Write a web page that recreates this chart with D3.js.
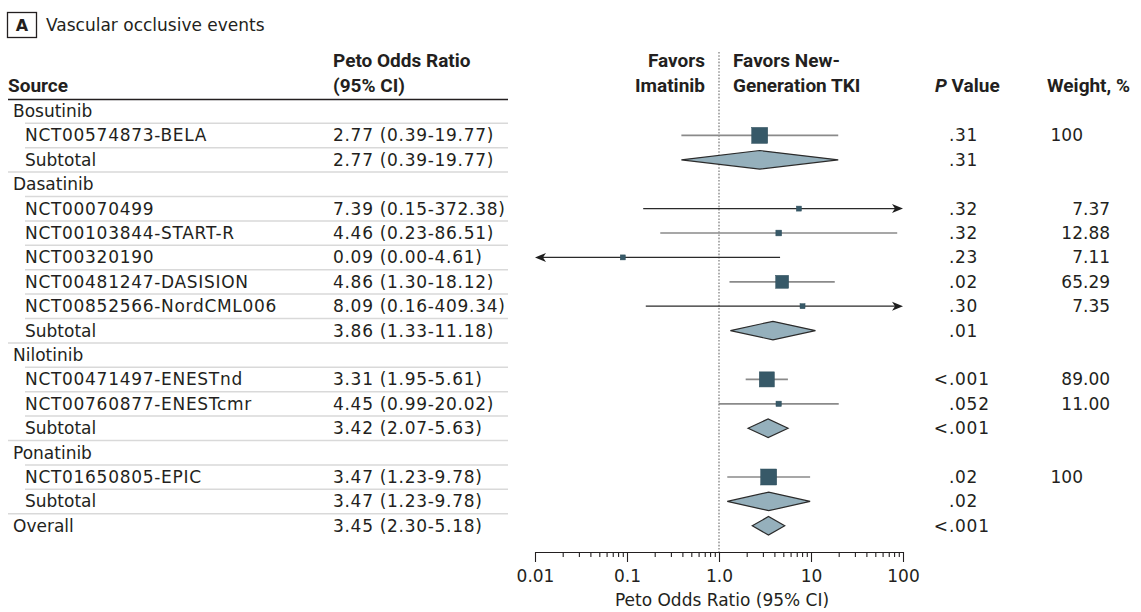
<!DOCTYPE html>
<html><head><meta charset="utf-8">
<script src="https://cdn.jsdelivr.net/npm/d3@7"></script>
<style>
body{margin:0;background:#fff}
svg{display:block}
text{font-family:"DejaVu Sans",sans-serif;fill:#231f20}
.hdr{font-family:Roboto,"DejaVu Sans",sans-serif;font-weight:700;font-size:19px}
.num{letter-spacing:0.7px}
</style>
</head><body>
<svg id="chart" width="1141" height="612"></svg>
<script>
// ---------- data ----------
const rowLabels = ["Bosutinib","NCT00574873-BELA","Subtotal","Dasatinib","NCT00070499","NCT00103844-START-R","NCT00320190","NCT00481247-DASISION","NCT00852566-NordCML006","Subtotal","Nilotinib","NCT00471497-ENESTnd","NCT00760877-ENESTcmr","Subtotal","Ponatinib","NCT01650805-EPIC","Subtotal","Overall"];
const rowTypes = ["group","study","subtotal","group","study","study","study","study","study","subtotal","group","study","study","subtotal","group","study","subtotal","overall"];
const oddsRatios = [null,2.77,2.77,null,7.39,4.46,0.09,4.86,8.09,3.86,null,3.31,4.45,3.42,null,3.47,3.47,3.45];
const ciLower = [null,0.39,0.39,null,0.15,0.23,0.00,1.30,0.16,1.33,null,1.95,0.99,2.07,null,1.23,1.23,2.30];
const ciUpper = [null,19.77,19.77,null,372.38,86.51,4.61,18.12,409.34,11.18,null,5.61,20.02,5.63,null,9.78,9.78,5.18];
const ciTexts = ["","2.77 (0.39-19.77)","2.77 (0.39-19.77)","","7.39 (0.15-372.38)","4.46 (0.23-86.51)","0.09 (0.00-4.61)","4.86 (1.30-18.12)","8.09 (0.16-409.34)","3.86 (1.33-11.18)","","3.31 (1.95-5.61)","4.45 (0.99-20.02)","3.42 (2.07-5.63)","","3.47 (1.23-9.78)","3.47 (1.23-9.78)","3.45 (2.30-5.18)"];
const pValues = ["",".31",".31","",".32",".32",".23",".02",".30",".01","","<.001",".052","<.001","",".02",".02","<.001"];
const weights = ["","100","","","7.37","12.88","7.11","65.29","7.35","","","89.00","11.00","","","100","",""];
const axisTicks = [0.01,0.1,1,10,100];
const axisTickLabels = ["0.01","0.1","1.0","10","100"];
const minorTicks = [];
for (let d = -2; d < 2; d++) for (let m = 2; m <= 9; m++) minorTicks.push(m * Math.pow(10, d));

// ---------- layout ----------
const svg = d3.select("#chart");
const ink = "#231f20";
const rowY = d3.scaleLinear().domain([0, 17]).range([111, 525.8]);
const x = d3.scaleLog().domain([0.01, 100]).range([535, 903]);
const sqSize = d3.scaleSqrt().domain([0, 100]).range([0, 16]);
const axisY = 552;

// Panel label
svg.append("rect").attr("x", 7.5).attr("y", 12.5).attr("width", 29).attr("height", 25)
  .attr("fill", "none").attr("stroke", ink).attr("stroke-width", 1.3);
svg.append("text").attr("x", 22).attr("y", 31).attr("text-anchor", "middle")
  .attr("font-weight", 700).attr("font-size", 16).text("A");
svg.append("text").attr("x", 46).attr("y", 31).attr("font-size", 17).text("Vascular occlusive events");

// Headers
svg.append("text").attr("class", "hdr").attr("x", 8).attr("y", 92).text("Source");
svg.append("text").attr("class", "hdr").attr("x", 333).attr("y", 67).text("Peto Odds Ratio");
svg.append("text").attr("class", "hdr").attr("x", 333).attr("y", 92).text("(95% CI)");
svg.append("text").attr("class", "hdr").attr("x", 705).attr("y", 67).attr("text-anchor", "end").text("Favors");
svg.append("text").attr("class", "hdr").attr("x", 705).attr("y", 92).attr("text-anchor", "end").text("Imatinib");
svg.append("text").attr("class", "hdr").attr("x", 733).attr("y", 67).text("Favors New-");
svg.append("text").attr("class", "hdr").attr("x", 733).attr("y", 92).text("Generation TKI");
const pv = svg.append("text").attr("class", "hdr").attr("x", 935).attr("y", 92);
pv.append("tspan").attr("font-style", "italic").text("P");
pv.append("tspan").text(" Value");
svg.append("text").attr("class", "hdr").attr("x", 1047).attr("y", 92).text("Weight, %");

// Header rule
svg.append("line").attr("x1", 8).attr("x2", 508).attr("y1", 99.5).attr("y2", 99.5)
  .attr("stroke", ink).attr("stroke-width", 1.6);

// Row separators
rowLabels.forEach((lab, i) => {
  if (i === rowLabels.length - 1) return;
  const yy = rowY(i) + 12.3;
  const startX = (rowTypes[i] === "subtotal") ? 8 : 25;
  svg.append("line").attr("x1", startX).attr("x2", 508).attr("y1", yy).attr("y2", yy)
    .attr("stroke", "#d9d9d9").attr("stroke-width", 1.5);
});

// Row texts
rowLabels.forEach((lab, i) => {
  const yb = rowY(i) + 6;
  const t = rowTypes[i];
  const lx = (t === "group" || t === "overall") ? 13 : 25;
  svg.append("text").attr("x", lx).attr("y", yb).attr("font-size", 17)
    .attr("class", t === "study" ? "num" : null).text(lab);
  if (ciTexts[i]) svg.append("text").attr("class", "num").attr("x", 333).attr("y", yb).attr("font-size", 17).text(ciTexts[i]);
  // P value, aligned on the decimal point
  if (pValues[i]) {
    const pvx = 949;
    const k = pValues[i].indexOf(".");
    const pre = pValues[i].slice(0, k), post = pValues[i].slice(k);
    if (pre) svg.append("text").attr("x", pvx - 1).attr("y", yb).attr("font-size", 17).attr("text-anchor", "end").text(pre);
    svg.append("text").attr("class", "num").attr("x", pvx).attr("y", yb).attr("font-size", 17).text(post);
  }
  // weights, aligned on the decimal point
  if (weights[i]) {
    const wx = 1083;
    const k = weights[i].indexOf(".");
    const pre = k < 0 ? weights[i] : weights[i].slice(0, k);
    const post = k < 0 ? "" : weights[i].slice(k);
    svg.append("text").attr("x", wx).attr("y", yb).attr("font-size", 17).attr("text-anchor", "end").text(pre);
    if (post) svg.append("text").attr("x", wx).attr("y", yb).attr("font-size", 17).text(post);
  }
});

// Reference line at 1.0
svg.append("line").attr("x1", x(1)).attr("x2", x(1)).attr("y1", 52).attr("y2", axisY)
  .attr("stroke", "#8c8c8c").attr("stroke-width", 1.4).attr("stroke-dasharray", "1.6,1.6");

// Forest marks
const plot = svg.append("g");
rowLabels.forEach((lab, i) => {
  const or = oddsRatios[i];
  if (or == null) return;
  const cy = rowY(i);
  const t = rowTypes[i];
  const [dmin, dmax] = x.domain();
  const lo = ciLower[i], hi = ciUpper[i];
  if (t === "study") {
    const leftArrow = lo < dmin, rightArrow = hi > dmax;
    const arrowed = leftArrow || rightArrow;
    const x1 = x(Math.max(lo, dmin)), x2 = x(Math.min(hi, dmax));
    plot.append("line").attr("x1", leftArrow ? x1 + 6 : x1).attr("x2", rightArrow ? x2 - 6 : x2)
      .attr("y1", cy).attr("y2", cy)
      .attr("stroke", arrowed ? "#2a2a2a" : "#8a8a8a").attr("stroke-width", arrowed ? 1.3 : 1.7);
    if (rightArrow) plot.append("path")
      .attr("d", `M${x2},${cy} L${x2 - 11},${cy - 4.5} L${x2 - 8},${cy} L${x2 - 11},${cy + 4.5} Z`).attr("fill", "#1e1e1e");
    if (leftArrow) plot.append("path")
      .attr("d", `M${x1},${cy} L${x1 + 11},${cy - 4.5} L${x1 + 8},${cy} L${x1 + 11},${cy + 4.5} Z`).attr("fill", "#1e1e1e");
    const w = parseFloat(weights[i]);
    const s = Math.max(5, sqSize(w));
    plot.append("rect").attr("x", x(or) - s / 2).attr("y", cy - s / 2).attr("width", s).attr("height", s)
      .attr("fill", "#375968").attr("stroke", "#2f4f5c").attr("stroke-width", 0.5);
  } else {
    const h = 9.3;
    plot.append("path")
      .attr("d", `M${x(lo)},${cy} L${x(or)},${cy - h} L${x(hi)},${cy} L${x(or)},${cy + h} Z`)
      .attr("fill", "#95b0bc").attr("stroke", "#2b2b2b").attr("stroke-width", 1.2).attr("stroke-linejoin", "miter");
  }
});

// Axis
const axisG = svg.append("g").attr("transform", `translate(0,${axisY})`);
axisG.call(d3.axisBottom(x).tickValues(axisTicks).tickFormat((d, i) => axisTickLabels[i])
  .tickSize(10).tickSizeOuter(0).tickPadding(8));
axisG.selectAll("text").attr("font-size", 17).attr("font-family", "DejaVu Sans").attr("fill", ink);
axisG.selectAll("line,path").attr("stroke", ink).attr("stroke-width", 1.1);
const minorG = svg.append("g").attr("transform", `translate(0,${axisY})`);
minorG.call(d3.axisBottom(x).tickValues(minorTicks).tickFormat("").tickSize(5).tickSizeOuter(0));
minorG.select(".domain").remove();
minorG.selectAll("line").attr("stroke", ink).attr("stroke-width", 1.1);
svg.append("text").attr("x", 722).attr("y", 606).attr("text-anchor", "middle").attr("font-size", 17)
  .text("Peto Odds Ratio (95% CI)");
</script>
</body></html>
